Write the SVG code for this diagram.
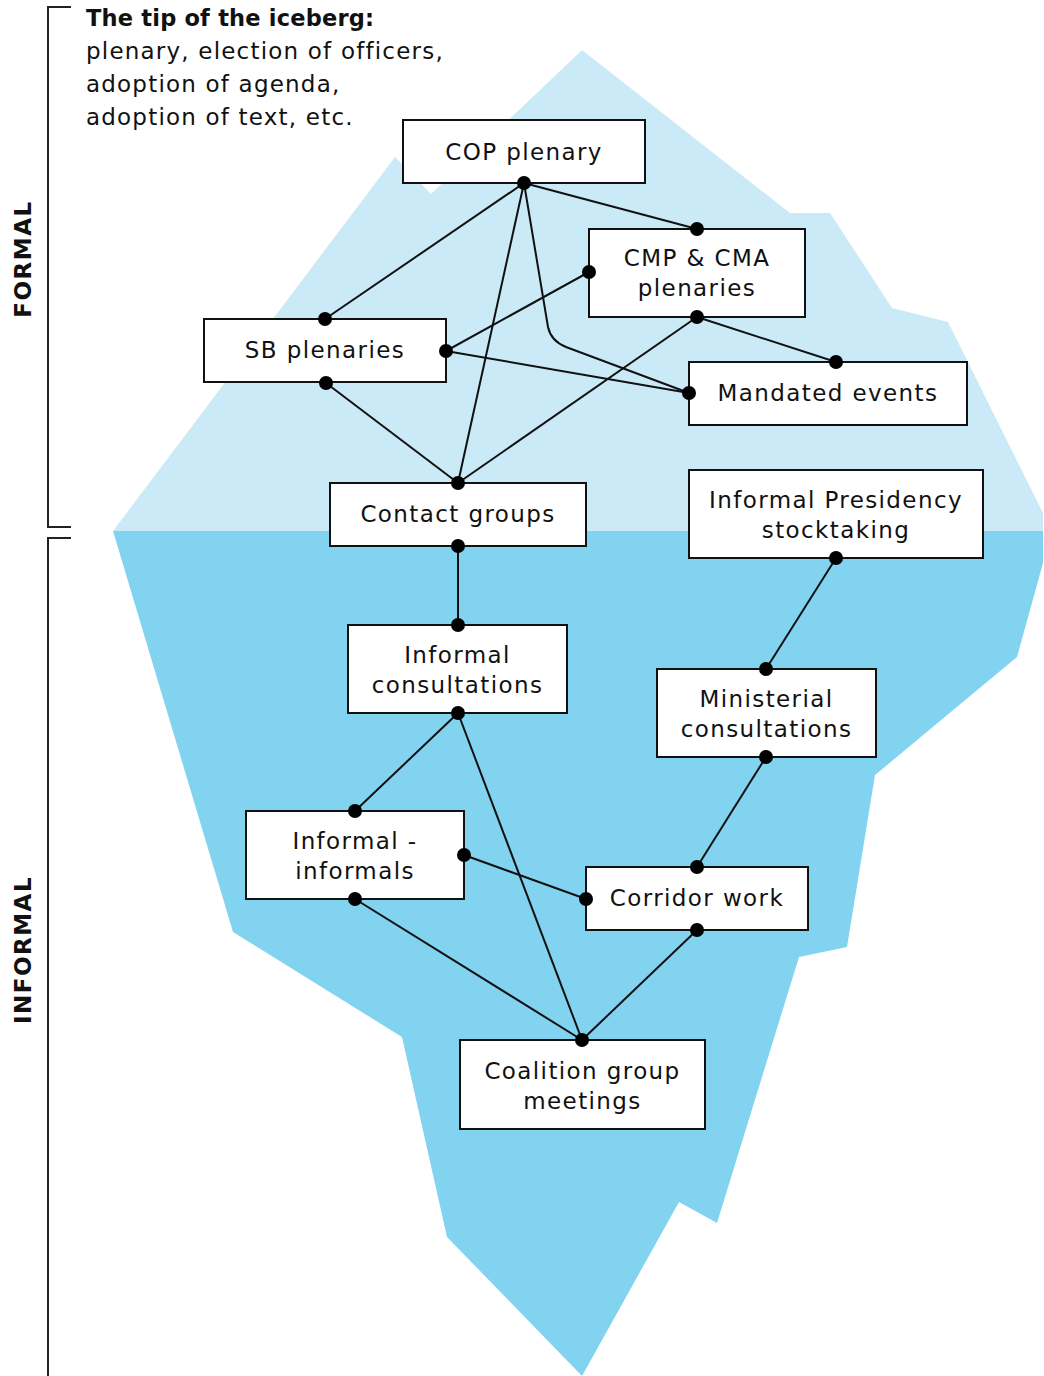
<svg xmlns="http://www.w3.org/2000/svg" width="1044" height="1376" viewBox="0 0 1044 1376">
<style>
.box{fill:#fff;stroke:#111;stroke-width:2}
.t{font-family:"DejaVu Sans","Liberation Sans",sans-serif;font-size:23px;letter-spacing:1.4px;fill:#111;text-anchor:middle}
.h{font-family:"DejaVu Sans","Liberation Sans",sans-serif;font-size:23px;letter-spacing:1.2px;fill:#111}
.hb{font-weight:bold;font-size:22.5px;letter-spacing:0.2px}
.side{font-family:"DejaVu Sans","Liberation Sans",sans-serif;font-size:23px;font-weight:bold;letter-spacing:1.5px;fill:#111;text-anchor:middle}
.edge{fill:none;stroke:#111;stroke-width:2}
.dot{fill:#000}
.br{fill:none;stroke:#222;stroke-width:2}
</style>
<rect width="1044" height="1376" fill="#fff"/>
<g id="iceberg">
<polygon fill="#cbeaf7" points="113,531 395,157 431,194 582,50 790,213 830,213 892,308 948,322 1043,513 1043,531"/>
<polygon fill="#82d3ef" points="113,531 1043,531 1043,563 1017,657 875,775 847,947 799,957 717,1223 679,1202 582,1376 447,1237 402,1037 233,932"/>
</g>
<g id="brackets">
<path class="br" d="M71,7 H48 V527 H71"/>
<path class="br" d="M71,538 H48 V1376"/>
<text class="side" transform="translate(31,259) rotate(-90)">FORMAL</text>
<text class="side" transform="translate(31,950) rotate(-90)">INFORMAL</text>
</g>
<g id="caption">
<text class="h hb" x="86" y="26">The tip of the iceberg:</text>
<text class="h" x="86" y="59">plenary, election of officers,</text>
<text class="h" x="86" y="92">adoption of agenda,</text>
<text class="h" x="86" y="125">adoption of text, etc.</text>
</g>
<g id="node-cop"><rect class="box" x="403" y="120" width="242" height="63"/><text class="t" x="524" y="160">COP plenary</text></g>
<g id="node-cmp"><rect class="box" x="589" y="229" width="216" height="88"/><text class="t" x="697" y="266">CMP &amp; CMA</text><text class="t" x="697" y="296">plenaries</text></g>
<g id="node-sb"><rect class="box" x="204" y="319" width="242" height="63"/><text class="t" x="325" y="358">SB plenaries</text></g>
<g id="node-mandated"><rect class="box" x="689" y="362" width="278" height="63"/><text class="t" x="828" y="401">Mandated events</text></g>
<g id="node-contact"><rect class="box" x="330" y="483" width="256" height="63"/><text class="t" x="458" y="522">Contact groups</text></g>
<g id="node-presidency"><rect class="box" x="689" y="470" width="294" height="88"/><text class="t" x="836" y="508">Informal Presidency</text><text class="t" x="836" y="538">stocktaking</text></g>
<g id="node-informal-consult"><rect class="box" x="348" y="625" width="219" height="88"/><text class="t" x="457.5" y="663">Informal</text><text class="t" x="457.5" y="693">consultations</text></g>
<g id="node-ministerial"><rect class="box" x="657" y="669" width="219" height="88"/><text class="t" x="766.5" y="707">Ministerial</text><text class="t" x="766.5" y="737">consultations</text></g>
<g id="node-informal-informals"><rect class="box" x="246" y="811" width="218" height="88"/><text class="t" x="355" y="849">Informal -</text><text class="t" x="355" y="879">informals</text></g>
<g id="node-corridor"><rect class="box" x="586" y="867" width="222" height="63"/><text class="t" x="697" y="906">Corridor work</text></g>
<g id="node-coalition"><rect class="box" x="460" y="1040" width="245" height="89"/><text class="t" x="582.5" y="1079">Coalition group</text><text class="t" x="582.5" y="1109">meetings</text></g>
<g id="connectors">
<line class="edge" x1="524" y1="183" x2="697" y2="229"/>
<line class="edge" x1="524" y1="183" x2="325" y2="319"/>
<line class="edge" x1="524" y1="183" x2="458" y2="483"/>
<path class="edge" d="M524,183 L548,327 Q551,341 566,347 L689,393"/>
<line class="edge" x1="446" y1="351" x2="589" y2="272"/>
<line class="edge" x1="446" y1="351" x2="689" y2="393"/>
<line class="edge" x1="326" y1="383" x2="458" y2="483"/>
<line class="edge" x1="697" y1="317" x2="458" y2="483"/>
<line class="edge" x1="697" y1="317" x2="836" y2="362"/>
<line class="edge" x1="458" y1="546" x2="458" y2="625"/>
<line class="edge" x1="836" y1="558" x2="766" y2="669"/>
<line class="edge" x1="458" y1="713" x2="355" y2="811"/>
<line class="edge" x1="458" y1="713" x2="582" y2="1040"/>
<line class="edge" x1="766" y1="757" x2="697" y2="867"/>
<line class="edge" x1="464" y1="855" x2="586" y2="899"/>
<line class="edge" x1="355" y1="899" x2="582" y2="1040"/>
<line class="edge" x1="697" y1="930" x2="582" y2="1040"/>
<circle class="dot" cx="524" cy="183" r="7"/>
<circle class="dot" cx="697" cy="229" r="7"/>
<circle class="dot" cx="589" cy="272" r="7"/>
<circle class="dot" cx="697" cy="317" r="7"/>
<circle class="dot" cx="325" cy="319" r="7"/>
<circle class="dot" cx="446" cy="351" r="7"/>
<circle class="dot" cx="326" cy="383" r="7"/>
<circle class="dot" cx="836" cy="362" r="7"/>
<circle class="dot" cx="689" cy="393" r="7"/>
<circle class="dot" cx="458" cy="483" r="7"/>
<circle class="dot" cx="458" cy="546" r="7"/>
<circle class="dot" cx="836" cy="558" r="7"/>
<circle class="dot" cx="458" cy="625" r="7"/>
<circle class="dot" cx="458" cy="713" r="7"/>
<circle class="dot" cx="766" cy="669" r="7"/>
<circle class="dot" cx="766" cy="757" r="7"/>
<circle class="dot" cx="355" cy="811" r="7"/>
<circle class="dot" cx="464" cy="855" r="7"/>
<circle class="dot" cx="355" cy="899" r="7"/>
<circle class="dot" cx="697" cy="867" r="7"/>
<circle class="dot" cx="586" cy="899" r="7"/>
<circle class="dot" cx="697" cy="930" r="7"/>
<circle class="dot" cx="582" cy="1040" r="7"/>
</g>
</svg>
